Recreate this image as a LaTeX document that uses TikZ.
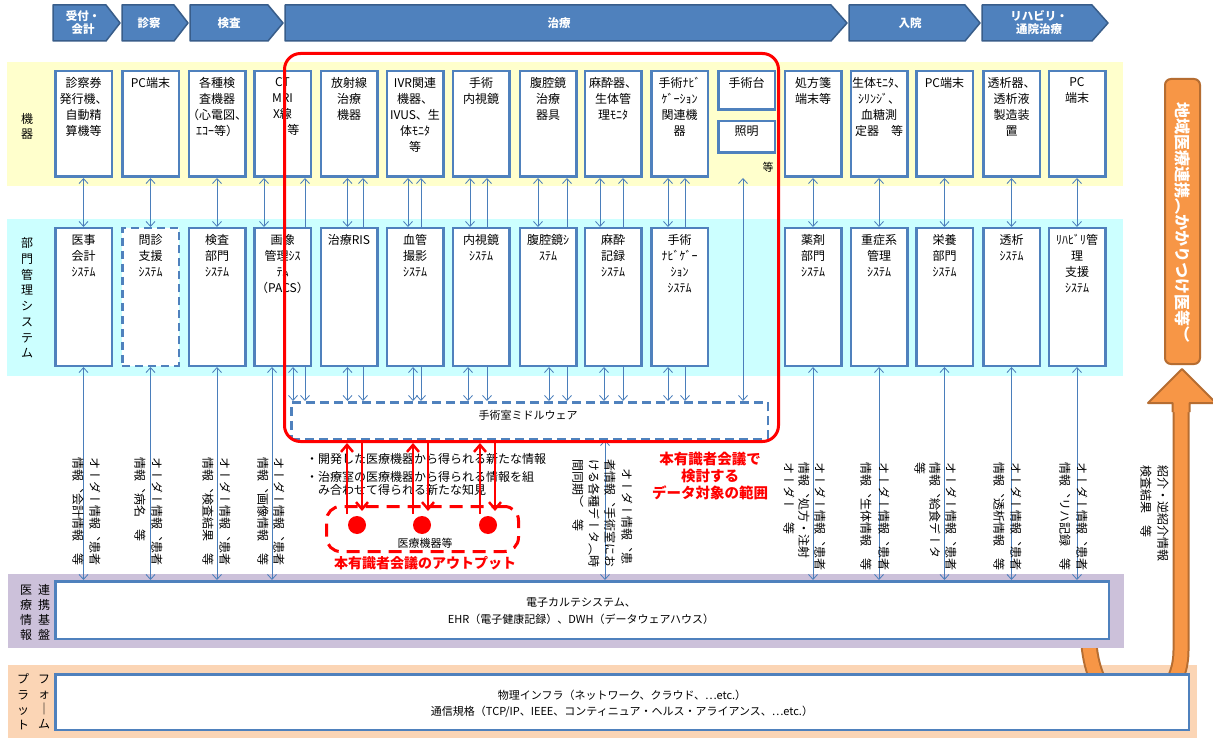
\documentclass[tikz,border=0pt]{standalone}
\usepackage{fontspec}
\setmainfont{Noto Sans CJK JP}
\newfontfamily\vjp[Vertical=RotatedGlyphs]{Noto Sans CJK JP}
\usetikzlibrary{arrows.meta,calc}
\pgfdeclarelayer{bg}\pgfdeclarelayer{ln}\pgfsetlayers{bg,ln,main}
\definecolor{hdrf}{HTML}{4F81BD}
\definecolor{hdrb}{HTML}{385D8A}
\definecolor{bxc}{HTML}{4F81BD}
\definecolor{lnc}{HTML}{4A7EBB}
\definecolor{yel}{HTML}{FFFFCC}
\definecolor{cya}{HTML}{CCFFFF}
\definecolor{pur}{HTML}{CCC1DA}
\definecolor{pch}{HTML}{FBD5B5}
\definecolor{org}{HTML}{F79646}
\definecolor{orgb}{HTML}{B66D31}
\definecolor{rd}{HTML}{FF0000}
\tikzset{
 hdr/.style={fill=hdrf, draw=hdrb, line width=1.5pt, line join=round},
 htxt/.style={text=white, font=\bfseries\fontsize{11.5}{13}\selectfont, align=center, inner sep=0},
 bx/.style={draw=bxc, line width=2.5pt, fill=white, inner sep=0, minimum width=56.5pt},
 dev/.style={bx, minimum height=105.5pt},
 sys/.style={bx, minimum height=137.5pt},
 btxt/.style={anchor=north, align=center, inner sep=0, font=\fontsize{12}{16}\selectfont},
 conn/.style={draw=lnc, line width=0.8pt, {Straight Barb[length=5pt,width=9pt]}-{Straight Barb[length=5pt,width=9pt]}},
 vlab/.style={rotate=-90, anchor=west, inner sep=0, font=\vjp\fontsize{12}{12}\selectfont},
 rowl/.style={align=center, inner sep=0, font=\fontsize{12}{15}\selectfont},
 rarr/.style={draw=rd, line width=2.5pt, -{Straight Barb[length=7pt,width=12pt]}},
}
\begin{document}
\begin{tikzpicture}[x=1pt,y=-1pt]
\useasboundingbox (0,0) rectangle (1213,738);
% bands
\begin{pgfonlayer}{bg}
\fill[white] (0,0) rectangle (1213,738);
\fill[yel] (7,62) rectangle (1123,186);
\fill[cya] (7,219) rectangle (1123,376);
\fill[pch] (8,665) rectangle (1197,738);
\draw[orgb, line width=17pt] (1087,610) -- (1089,645) .. controls (1093,685) and (1110,705) .. (1135,705) .. controls (1160,705) and (1181,685) .. (1181,650) -- (1181,405);
\draw[org, line width=13pt] (1087,610) -- (1089,645) .. controls (1093,685) and (1110,705) .. (1135,705) .. controls (1160,705) and (1181,685) .. (1181,650) -- (1181,405);
\fill[org] (1182,369) -- (1216,403) -- (1189.5,403) -- (1189.5,412) -- (1172.5,412) -- (1172.5,403) -- (1148,403) -- cycle;
\draw[orgb, line width=2pt, line join=round] (1172.5,412) -- (1172.5,403) -- (1148,403) -- (1182,369) -- (1216,403) -- (1189.5,403) -- (1189.5,412);
\fill[pur] (8,574) rectangle (1124,648);
\end{pgfonlayer}
% header
\draw[hdr] (53,5) -- (106,5) -- (120,23) -- (106,41) -- (53,41) -- cycle;
\draw[hdr] (122,5) -- (174,5) -- (188,23) -- (174,41) -- (122,41) -- cycle;
\draw[hdr] (190,5) -- (268,5) -- (283,23) -- (268,41) -- (190,41) -- cycle;
\draw[hdr] (285,5) -- (831,5) -- (847,23) -- (831,41) -- (285,41) -- cycle;
\draw[hdr] (849,5) -- (965,5) -- (980,23) -- (965,41) -- (849,41) -- cycle;
\draw[hdr] (982,5) -- (1092,5) -- (1108,23) -- (1092,41) -- (982,41) -- cycle;
\node[htxt] (h1) at (83,23) {受付・\\会計};
\node[htxt] (h2) at (149,23) {診察};
\node[htxt] (h3) at (229,23) {検査};
\node[htxt] (h4) at (559,23) {治療};
\node[htxt] (h5) at (910,23) {入院};
\node[htxt] (h6) at (1039,23) {リハビリ・\\通院治療};
% row labels
\node[rowl] (r1) at (27,126) {機\\器};
\node[rowl, font=\fontsize{12}{15.7}\selectfont] (r2) at (27,298) {部\\門\\管\\理\\シ\\ス\\テ\\ム};
\node[rowl] (r3a) at (26,612.5) {医\\療\\情\\報};
\node[rowl] (r3b) at (44,612.5) {連\\携\\基\\盤};
\node[rowl, font=\fontsize{12}{15.3}\selectfont] (r4a) at (23,702) {プ\\ラ\\ッ\\ト};
\node[rowl, font=\fontsize{12}{15.3}\selectfont] (r4b) at (44,702) {フ\\ォ\\｜\\ム};
% device boxes
\node[dev] (d1) at (83.5,124) {};
\node[dev] (d2) at (150.5,124) {};
\node[dev] (d3) at (217,124) {};
\node[dev] (d4) at (282.5,124) {};
\node[dev] (d5) at (349,124) {};
\node[dev] (d6) at (415,124) {};
\node[dev] (d7) at (481,124) {};
\node[dev] (d8) at (548,124) {};
\node[dev] (d9) at (613,124) {};
\node[dev] (d10) at (679.5,124) {};
\node[bx, minimum height=38.5pt] (d11a) at (746.5,90.5) {};
\node[bx, minimum height=31.5pt] (d11b) at (746.5,137) {};
\node[dev] (d12) at (813,124) {};
\node[dev] (d13) at (879,124) {};
\node[dev] (d14) at (944.5,124) {};
\node[dev] (d15) at (1011.5,124) {};
\node[dev] (d16) at (1077,124) {};
\node[btxt] (d1t) at (83.5,77) {診察券\\発行機、\\自動精\\算機等};
\node[btxt] (d2t) at (150.5,77) {PC端末};
\node[btxt] (d3t) at (217,77) {各種検\\査機器\\（心電図、\\ｴｺｰ等）};
\node[btxt] (d4t) at (282.5,77) {CT\\MRI\\X線\\\hspace*{1.8em}等};
\node[btxt] (d5t) at (349,77) {放射線\\治療\\機器};
\node[btxt] (d6t) at (415,77) {IVR関連\\機器、\\IVUS、生\\体ﾓﾆﾀ\\等};
\node[btxt] (d7t) at (481,77) {手術\\内視鏡};
\node[btxt] (d8t) at (548,77) {腹腔鏡\\治療\\器具};
\node[btxt] (d9t) at (613,77) {麻酔器、\\生体管\\理ﾓﾆﾀ};
\node[btxt] (d10t) at (679.5,77) {手術ﾅﾋﾞ\\ｹﾞｰｼｮﾝ\\関連機\\器};
\node[btxt] (d11at) at (746.5,77) {手術台};
\node[btxt] (d11bt) at (746.5,126) {照明};
\node[font=\fontsize{11}{11}\selectfont, inner sep=0] (d11c) at (768,167) {等};
\node[btxt] (d12t) at (813,77) {処方箋\\端末等};
\node[btxt] (d13t) at (879,77) {生体ﾓﾆﾀ、\\ｼﾘﾝｼﾞ、\\血糖測\\定器　等};
\node[btxt] (d14t) at (944.5,77) {PC端末};
\node[btxt] (d15t) at (1011.5,77) {透析器、\\透析液\\製造装\\置};
\node[btxt] (d16t) at (1077,77) {PC\\端末};
% system boxes
\node[sys] (s1) at (83.5,297) {};
\node[sys, dashed, dash pattern=on 8pt off 5pt] (s2) at (150.5,297) {};
\node[sys] (s3) at (217,297) {};
\node[sys] (s4) at (282.5,297) {};
\node[sys] (s5) at (349,297) {};
\node[sys] (s6) at (415,297) {};
\node[sys] (s7) at (481,297) {};
\node[sys] (s8) at (548,297) {};
\node[sys] (s9) at (613,297) {};
\node[sys] (s10) at (679.5,297) {};
\node[sys] (s12) at (813,297) {};
\node[sys] (s13) at (879,297) {};
\node[sys] (s14) at (944.5,297) {};
\node[sys] (s15) at (1011.5,297) {};
\node[sys] (s16) at (1077,297) {};
\node[btxt] (s1t) at (83.5,234) {医事\\会計\\ｼｽﾃﾑ};
\node[btxt] (s2t) at (150.5,234) {問診\\支援\\ｼｽﾃﾑ};
\node[btxt] (s3t) at (217,234) {検査\\部門\\ｼｽﾃﾑ};
\node[btxt] (s4t) at (282.5,234) {画像\\管理ｼｽ\\ﾃﾑ\\（PACS）};
\node[btxt] (s5t) at (349,234) {治療RIS};
\node[btxt] (s6t) at (415,234) {血管\\撮影\\ｼｽﾃﾑ};
\node[btxt] (s7t) at (481,234) {内視鏡\\ｼｽﾃﾑ};
\node[btxt] (s8t) at (548,234) {腹腔鏡ｼ\\ｽﾃﾑ};
\node[btxt] (s9t) at (613,234) {麻酔\\記録\\ｼｽﾃﾑ};
\node[btxt] (s10t) at (679.5,234) {手術\\ﾅﾋﾞｹﾞｰ\\ｼｮﾝ\\ｼｽﾃﾑ};
\node[btxt] (s12t) at (813,234) {薬剤\\部門\\ｼｽﾃﾑ};
\node[btxt] (s13t) at (879,234) {重症系\\管理\\ｼｽﾃﾑ};
\node[btxt] (s14t) at (944.5,234) {栄養\\部門\\ｼｽﾃﾑ};
\node[btxt] (s15t) at (1011.5,234) {透析\\ｼｽﾃﾑ};
\node[btxt] (s16t) at (1077,234) {ﾘﾊﾋﾞﾘ管\\理\\支援\\ｼｽﾃﾑ};
% middleware, EHR, platform
\node[bx, dashed, dash pattern=on 9pt off 5pt, minimum width=476.5pt, minimum height=36.5pt] (mw) at (529.5,420.5) {};
\node[font=\fontsize{11}{11}\selectfont, inner sep=0] (mwt) at (528,415) {手術室ミドルウェア};
\node[bx, minimum width=1053.5pt, minimum height=57.5pt] (ehr) at (582,610) {};
\node[font=\fontsize{11}{17}\selectfont, align=center, inner sep=0] (ehrt) at (581,611.5) {電子カルテシステム、\\EHR（電子健康記録）、DWH（データウェアハウス）};
\node[bx, minimum width=1133.5pt, minimum height=55.5pt] (plat) at (622,702) {};
\node[font=\fontsize{11}{16}\selectfont, align=center, inner sep=0] (platt) at (622,704) {物理インフラ（ネットワーク、クラウド、…etc.）\\通信規格（TCP/IP、IEEE、コンティニュア・ヘルス・アライアンス、…etc.）};
% orange box
\node[fill=org, draw=orgb, line width=2pt, rounded corners=6pt, minimum width=35pt, minimum height=285pt, inner sep=0] (ob) at (1182.5,221.5) {};
\node[rotate=-90, inner sep=0, text=white, font=\vjp\bfseries\fontsize{16}{16}\selectfont] (obt) at (1182.5,223) {地域医療連携（かかりつけ医等）};
% connectors
\coordinate (g11) at (743,178);
\begin{pgfonlayer}{ln}
\foreach \i in {1,2,3,12,13,14,15,16} {
 \draw[conn] (d\i.south) -- (s\i.north);
 \draw[conn] (s\i.south) -- (s\i.south |- ehr.north);
}
\foreach \i/\a/\b/\c in {4/-18.5/22.5/10.5, 5/-1.5/14/-1.5, 6/-7/6/-2, 7/-11/6/-13, 8/-10/19/1, 9/-13/10/-9, 10/-11.5/5.5/-11.5} {
 \draw[conn] ([xshift=\a pt]d\i.south) -- ([xshift=\a pt]s\i.north);
 \draw[conn] ([xshift=\b pt]d\i.south) -- ([xshift=\b pt]d\i.south |- mw.north);
 \draw[conn] ([xshift=\c pt]s\i.south) -- ([xshift=\c pt]s\i.south |- mw.north);
}
\draw[conn] ([xshift=-10.5pt]s4.south) -- ([xshift=-10.5pt]s4.south |- ehr.north);
\draw[conn] ([xshift=-8pt]s9.south |- mw.south) -- ([xshift=-8pt]s9.south |- ehr.north);
\draw[conn] (g11) -- (g11 |- mw.north);
\end{pgfonlayer}
% vertical labels
\node[vlab] (l1a) at (95,457) {オーダー情報、患者};
\node[vlab] (l1b) at (78,457) {情報、会計情報　等};
\node[vlab] (l2a) at (157,457) {オーダー情報、患者};
\node[vlab] (l2b) at (140,457) {情報、病名　等};
\node[vlab] (l3a) at (225,457) {オーダー情報、患者};
\node[vlab] (l3b) at (208,457) {情報、検査結果　等};
\node[vlab] (l4a) at (279,457) {オーダー情報、患者};
\node[vlab] (l4b) at (263,457) {情報、画像情報　等};
\node[vlab] (l9a) at (627,468) {オーダー情報、患};
\node[vlab] (l9b) at (610,459) {者情報、手術室にお};
\node[vlab] (l9c) at (594,459) {ける各種データ（時};
\node[vlab] (l9d) at (578,459) {間同期）　等};
\node[vlab] (l12a) at (820,462) {オーダー情報、患者};
\node[vlab] (l12b) at (804,462) {情報、処方・注射};
\node[vlab] (l12c) at (789,462) {オーダー　等};
\node[vlab] (l13a) at (884,462) {オーダー情報、患者};
\node[vlab] (l13b) at (866,462) {情報、生体情報　等};
\node[vlab] (l14a) at (951,462) {オーダー情報、患者};
\node[vlab] (l14b) at (935,462) {情報、給食データ};
\node[vlab] (l14c) at (920,462) {等};
\node[vlab] (l15a) at (1016,462) {オーダー情報、患者};
\node[vlab] (l15b) at (999,462) {情報、透析情報　等};
\node[vlab] (l16a) at (1082,462) {オーダー情報、患者};
\node[vlab] (l16b) at (1065,462) {情報、リハ記録　等};
\node[vlab] (l17a) at (1163,465) {紹介・逆紹介情報};
\node[vlab] (l17b) at (1146,465) {検査結果　等};
% bullets and output
\node[anchor=north west, align=left, inner sep=0, font=\fontsize{12}{13}\selectfont] (bul) at (306,453) {・開発した医療機器から得られる新たな情報\\[5pt]・治療室の医療機器から得られる情報を組\\\hspace*{1em}み合わせて得られる新たな知見};
\node[draw=rd, line width=3pt, dash pattern=on 13pt off 8pt, rounded corners=14pt, minimum width=192pt, minimum height=45pt, inner sep=0] (out) at (422.5,529) {};
\node[circle, fill=rd, minimum size=18pt, inner sep=0] (c1) at (357,525) {};
\node[circle, fill=rd, minimum size=18pt, inner sep=0] (c2) at (422,525) {};
\node[circle, fill=rd, minimum size=18pt, inner sep=0] (c3) at (488,525) {};
\node[font=\fontsize{11}{11}\selectfont, inner sep=0] (outt) at (425,543) {医療機器等};
\node[text=rd, font=\bfseries\fontsize{14}{14}\selectfont, inner sep=0] (outl) at (425,563) {本有識者会議のアウトプット};
\node[text=rd, font=\bfseries\fontsize{14.5}{17}\selectfont, align=center, inner sep=0] (scl) at (710,476) {本有識者会議で\\検討する\\データ対象の範囲};
% red scope box
\node[draw=rd, line width=3pt, rounded corners=16pt, minimum width=494pt, minimum height=388pt, inner sep=0] (scope) at (531.5,247.5) {};
\coordinate (u1) at (347,514); \coordinate (v1) at (362,511);
\coordinate (u2) at (413,514); \coordinate (v2) at (428,511);
\coordinate (u3) at (480,514); \coordinate (v3) at (495,511);
\foreach \k in {1,2,3} {
 \draw[rarr] (u\k) -- (u\k |- scope.south);
 \draw[rarr] (v\k |- scope.south) -- (v\k);
}
\end{tikzpicture}
\end{document}
